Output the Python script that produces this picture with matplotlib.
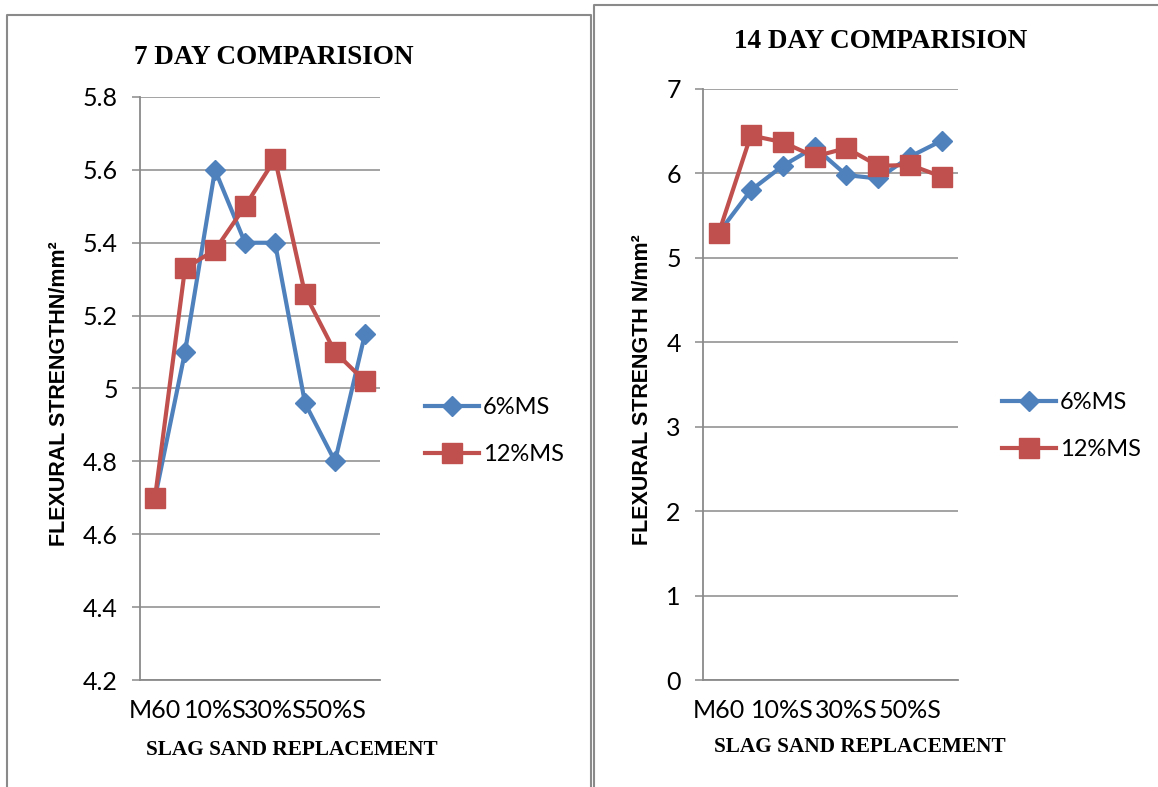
#!/usr/bin/env python3
"""Flexural strength comparison at 7 and 14 days (slag sand replacement)."""

import matplotlib
matplotlib.use("Agg")
import matplotlib.pyplot as plt
from matplotlib.lines import Line2D
from matplotlib import font_manager

# Category labels (only every other one is shown on the axis, as in the source)
tick_labels = ["M60", "", "10%S", "", "30%S", "", "50%S", ""]

# 7 day flexural strength
day7_6ms = [4.70, 5.10, 5.60, 5.40, 5.40, 4.96, 4.80, 5.15]
day7_12ms = [4.70, 5.33, 5.38, 5.50, 5.63, 5.26, 5.10, 5.02]

# 14 day flexural strength
day14_6ms = [5.30, 5.80, 6.09, 6.31, 5.98, 5.94, 6.20, 6.39]
day14_12ms = [5.30, 6.45, 6.37, 6.20, 6.30, 6.09, 6.10, 5.96]

W, H = 1158, 787
BLUE = '#4F81BD'
RED = '#C0504D'
GRID = '#8A8A8A'
TICK_FONT = 'Lato'
SERIF = 'Liberation Serif'

# condensed bold sans for the y labels, if one is installed
installed = {f.name for f in font_manager.fontManager.ttflist}
if 'Liberation Sans Narrow' in installed:
    NARROW, NARROW_SIZE = 'Liberation Sans Narrow', 18
elif 'DejaVu Sans Condensed' in installed:
    NARROW, NARROW_SIZE = 'DejaVu Sans Condensed', 15.5
else:
    NARROW, NARROW_SIZE = 'Liberation Sans', 15.5


def fx(x):
    return x / W


def fy(y):
    return 1 - y / H


def make_panel(fig, rect, y6, y12, ylim, yticks, ylabel, ylabel_x, title, title_xy,
               xlabel_xy, legend_xy):
    left, top, right, bottom = rect
    ax = fig.add_axes([fx(left), fy(bottom), fx(right - left), (bottom - top) / H])
    x = list(range(len(y6)))
    ax.plot(x, y6, color=BLUE, linewidth=3.0, marker='D', markersize=10,
            label='6%MS', zorder=3)
    ax.plot(x, y12, color=RED, linewidth=3.0, marker='s', markersize=14,
            label='12%MS', zorder=4)
    ax.set_xlim(-0.5, len(y6) - 0.5)
    ax.set_ylim(*ylim)
    ax.set_yticks(yticks)
    ax.set_yticklabels([f'{v:g}' for v in yticks])
    ax.set_xticks(x)
    ax.set_xticklabels(tick_labels)
    ax.grid(axis='y', color=GRID, linewidth=1.1)
    ax.set_axisbelow(True)
    for side in ('top', 'right'):
        ax.spines[side].set_visible(False)
    for side in ('left', 'bottom'):
        ax.spines[side].set_color(GRID)
        ax.spines[side].set_linewidth(1.3)
    ax.tick_params(axis='y', length=6, color=GRID, width=1.1, pad=10, labelsize=18)
    ax.tick_params(axis='x', length=0, pad=14, labelsize=18)
    for lbl in ax.get_xticklabels() + ax.get_yticklabels():
        lbl.set_fontfamily(TICK_FONT)

    fig.text(fx(title_xy[0]), fy(title_xy[1]), title, family=SERIF, weight='bold',
             fontsize=19.5, ha='center', va='center')
    fig.text(fx(xlabel_xy[0]), fy(xlabel_xy[1]), 'SLAG SAND REPLACEMENT', family=SERIF,
             weight='bold', fontsize=15.3, ha='center', va='center')
    fig.text(fx(ylabel_x), fy(ylabel_y(top, bottom)), ylabel, family=NARROW,
             weight='bold', fontsize=NARROW_SIZE, rotation=90, ha='center', va='center')

    ax.legend(loc='center left', bbox_to_anchor=(fx(legend_xy[0]), fy(legend_xy[1])),
              bbox_transform=fig.transFigure, frameon=False, borderpad=0,
              borderaxespad=0, handlelength=2.3, handletextpad=0.15,
              labelspacing=1.1, prop={'family': TICK_FONT, 'size': 17})
    return ax


def ylabel_y(top, bottom):
    return (top + bottom) / 2 + 5


fig = plt.figure(figsize=(W / 100, H / 100), dpi=100)

# panel borders
border = dict(color=GRID, linewidth=1.5, transform=fig.transFigure)
fig.add_artist(Line2D([fx(7), fx(7), fx(591), fx(591)], [fy(H), fy(15), fy(15), fy(H)], **border))
fig.add_artist(Line2D([fx(594), fx(594), fx(W)], [fy(H), fy(5), fy(5)], **border))

make_panel(fig, (140, 97, 380, 680), day7_6ms, day7_12ms, (4.2, 5.8),
           [4.2, 4.4, 4.6, 4.8, 5.0, 5.2, 5.4, 5.6, 5.8],
           'FLEXURAL STRENGTHN/mm²', 60, '7 DAY COMPARISION', (274, 57),
           (292, 750), (425, 431))

make_panel(fig, (703, 89, 958, 680), day14_6ms, day14_12ms, (0, 7),
           list(range(8)),
           'FLEXURAL STRENGTH N/mm²', 642, '14 DAY COMPARISION', (881, 42),
           (860, 747), (1002, 426))

fig.savefig('out.png', dpi=100)
